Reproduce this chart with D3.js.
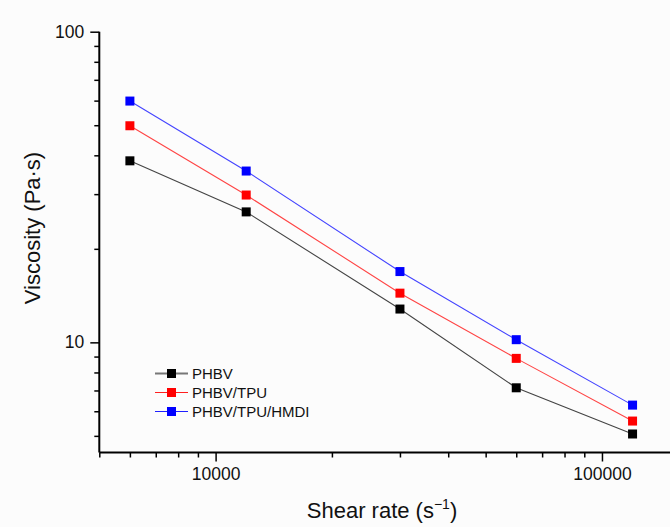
<!DOCTYPE html>
<html><head><meta charset="utf-8">
<script src="https://cdn.jsdelivr.net/npm/d3@7"></script>
<style>html,body{margin:0;padding:0;background:#fcfcfc;}svg{display:block;font-family:"Liberation Sans",Arial,sans-serif;}</style>
</head><body>
<svg id="c" width="670" height="527"></svg>
<script>
const shearRates = [6000, 12000, 30000, 60000, 120000];
const seriesNames = ["PHBV", "PHBV/TPU", "PHBV/TPU/HMDI"];
const phbv = [38.4, 26.3, 12.8, 7.14, 5.07];
const phbvTpu = [49.8, 29.8, 14.4, 8.88, 5.58];
const phbvTpuHmdi = [59.8, 35.6, 16.9, 10.2, 6.28];
const xTickLabels = ["10000", "100000"];
const yTickLabels = ["10", "100"];

const colors = ["#000000", "#ff0000", "#0000ff"];
const lineColors = ["#444444", "#ff4444", "#4444ff"];
const legendLineColors = ["#777777", "#ff2020", "#2020ff"];
const data = [phbv, phbvTpu, phbvTpuHmdi];

const svg = d3.select("#c");
const x = d3.scaleLog().domain([5000, 150000]).range([99.3, 670]);
const y = d3.scaleLog().domain([4.42, 100]).range([452.5, 31.7]);

const xMajor = [10000, 100000];
const xMinor = [5000,6000,7000,8000,9000,20000,30000,40000,50000,60000,70000,80000,90000];
const yMajor = [10, 100];
const yMinor = [5,6,7,8,9,20,30,40,50,60,70,80,90];

const xAxis = d3.axisBottom(x).tickValues(xMajor).tickFormat((d,i)=>xTickLabels[i]).tickSize(9).tickPadding(5);
const gx = svg.append("g").attr("transform","translate(0,452.5)").call(xAxis);
const xMin = d3.axisBottom(x).tickValues(xMinor).tickFormat("").tickSize(5);
const gxm = svg.append("g").attr("transform","translate(0,452.5)").call(xMin);

const yAxis = d3.axisLeft(y).tickValues(yMajor).tickFormat((d,i)=>yTickLabels[i]).tickSize(9).tickPadding(6);
const gy = svg.append("g").attr("transform","translate(99.3,0)").call(yAxis);
const yMin = d3.axisLeft(y).tickValues(yMinor).tickFormat("").tickSize(5);
const gym = svg.append("g").attr("transform","translate(99.3,0)").call(yMin);

[gx,gxm,gy,gym].forEach(g=>{
  g.select(".domain").attr("stroke","#000").attr("stroke-width",2);
  g.selectAll(".tick line").attr("stroke","#000").attr("stroke-width",1.5);
  g.selectAll(".tick text").attr("fill","#111").attr("font-size",17.5).attr("font-family","'Liberation Sans',Arial,sans-serif");
});
gx.selectAll(".tick text").attr("dy","0.78em");
gx.select(".domain").attr("d","M99.3,0H670");
gxm.select(".domain").remove();
gy.select(".domain").attr("d","M0,31.7V452.5");
gym.select(".domain").remove();

const line = d3.line().x((d,i)=>x(shearRates[i])).y(d=>y(d));
data.forEach((s,k)=>{
  svg.append("path").datum(s).attr("d",line).attr("fill","none")
     .attr("stroke",lineColors[k]).attr("stroke-width",1.1);
});
data.forEach((s,k)=>{
  svg.append("g").selectAll("rect").data(s).join("rect")
    .attr("x",(d,i)=>x(shearRates[i])-4.5).attr("y",d=>y(d)-4.5)
    .attr("width",9).attr("height",9).attr("fill",colors[k]);
});

const lg = svg.append("g");
seriesNames.forEach((n,k)=>{
  const yy = 373.5 + k*19;
  lg.append("line").attr("x1",155).attr("x2",188).attr("y1",yy).attr("y2",yy)
    .attr("stroke",legendLineColors[k]).attr("stroke-width",k===0?2:1.2);
  lg.append("rect").attr("x",167).attr("y",yy-4.5).attr("width",9).attr("height",9).attr("fill",colors[k]);
  lg.append("text").attr("x",192).attr("y",yy).attr("dy","0.35em").attr("font-size",15).attr("fill","#111").text(n);
});

svg.append("text").attr("x",382).attr("y",518).attr("text-anchor","middle").attr("font-size",22).attr("fill","#111")
  .html('Shear rate (s<tspan dy="-9" font-size="14">−1</tspan><tspan dy="9">)</tspan>');
svg.append("text").attr("transform","translate(40,228) rotate(-90)").attr("text-anchor","middle").attr("font-size",22).attr("fill","#111")
  .text("Viscosity (Pa·s)");
</script>
</body></html>
